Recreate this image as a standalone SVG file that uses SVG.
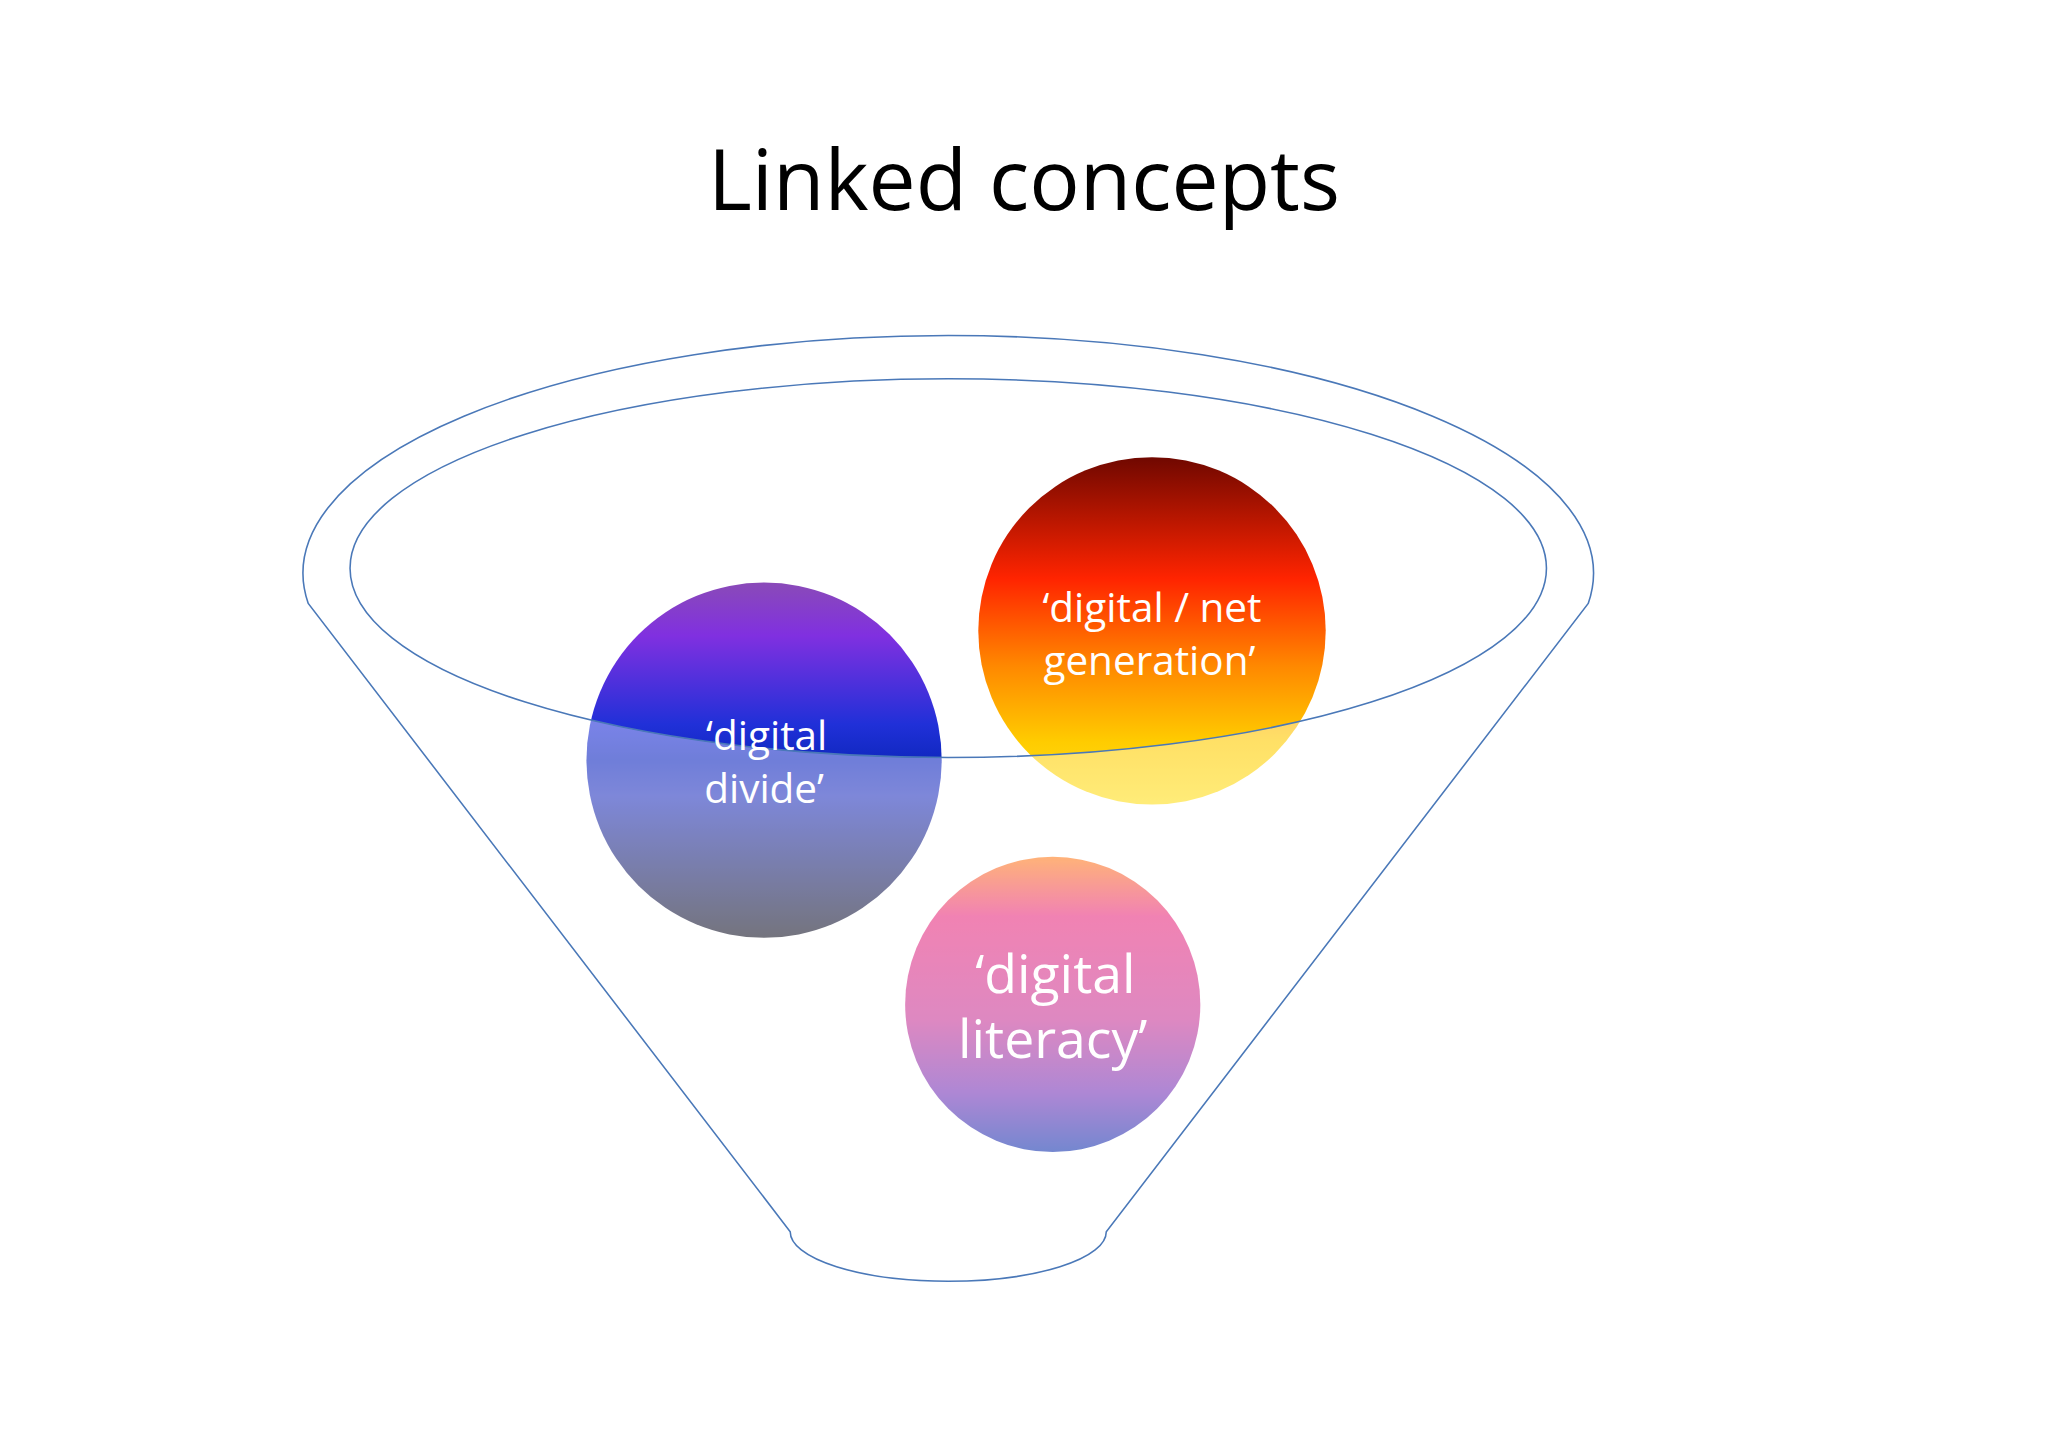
<svg xmlns="http://www.w3.org/2000/svg" width="2048" height="1447" viewBox="0 0 2048 1447">
<defs>
<linearGradient id="gDiv" x1="0" y1="0" x2="0" y2="1">
<stop offset="0" stop-color="#8a4ab8"/><stop offset="0.15" stop-color="#8030e0"/><stop offset="0.4" stop-color="#2030d8"/><stop offset="0.5" stop-color="#1028c0"/><stop offset="0.6" stop-color="#2838c0"/><stop offset="1" stop-color="#181828"/>
</linearGradient>
<linearGradient id="gNet" x1="0" y1="0" x2="0" y2="1">
<stop offset="0" stop-color="#700800"/><stop offset="0.35" stop-color="#ff2400"/><stop offset="0.6" stop-color="#ff8800"/><stop offset="0.82" stop-color="#ffcc00"/><stop offset="1" stop-color="#ffe020"/>
</linearGradient>
<linearGradient id="gLit" x1="0" y1="0" x2="0" y2="1">
<stop offset="0" stop-color="#ff8020"/><stop offset="0.2" stop-color="#e83080"/><stop offset="0.55" stop-color="#c83a98"/><stop offset="0.8" stop-color="#7838b8"/><stop offset="1" stop-color="#1838b0"/>
</linearGradient>
<style>
.ln{fill:none;stroke:#4a78b8;stroke-width:1.2}
.t{font-family:"Open Sans","Liberation Sans",sans-serif;fill:#fff;text-anchor:middle}
</style>
</defs>
<rect width="2048" height="1447" fill="#fff"/>
<text x="1024" y="210" font-family="Open Sans, Liberation Sans, sans-serif" font-size="84" text-anchor="middle" fill="#000">Linked concepts</text>
<g transform="scale(1.30612)">
<g id="divide"><circle cx="585" cy="582" r="136" fill="url(#gDiv)"/></g>
<g id="net"><circle cx="882" cy="483" r="133" fill="url(#gNet)"/></g>
<g id="literacy"><circle cx="806" cy="769" r="113" fill="url(#gLit)"/></g>
<g id="funnel">
<path fill="#fff" fill-opacity="0.4" fill-rule="evenodd" d="M236 462 A494 182 0 1 1 1216 462 L847 943 A121 38 0 0 1 605 943 Z M268 435 A458 145 0 1 0 1184 435 A458 145 0 1 0 268 435 Z"/>
<path class="ln" d="M236 462 A494 182 0 1 1 1216 462 L847 943 A121 38 0 0 1 605 943 Z"/>
<ellipse class="ln" cx="726" cy="435" rx="458" ry="145"/>
</g>
<g id="labels">
<text class="t" font-size="31" x="587" y="574">‘digital</text>
<text class="t" font-size="31" x="585" y="615">divide’</text>
<text class="t" font-size="31" x="882" y="476">‘digital / net</text>
<text class="t" font-size="31" x="880" y="517">generation’</text>
<text class="t" font-size="41" x="808" y="760">‘digital</text>
<text class="t" font-size="41" x="806" y="810">literacy’</text>
</g>
</g>
</svg>
